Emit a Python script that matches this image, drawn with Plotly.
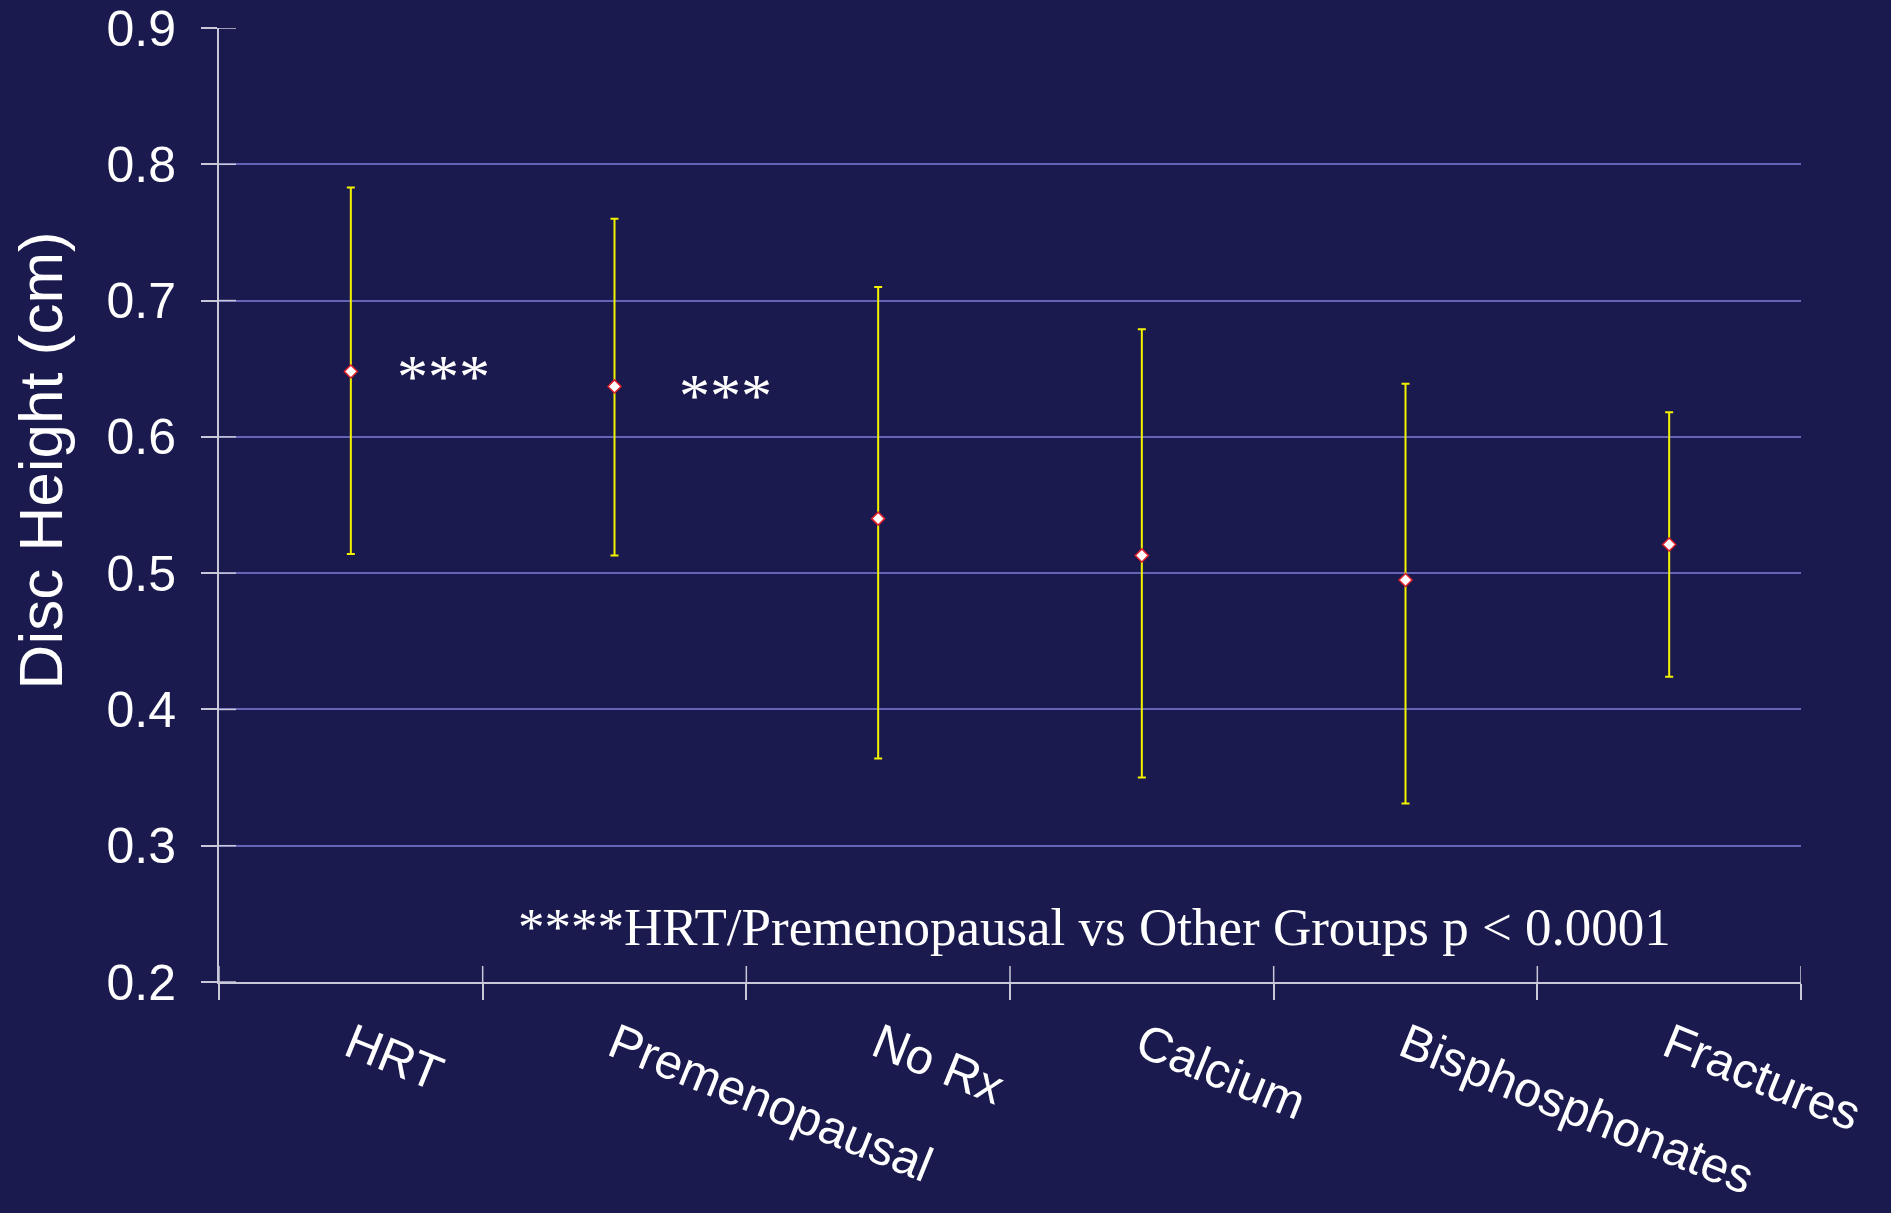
import plotly.graph_objects as go

categories = ["HRT", "Premenopausal", "No Rx", "Calcium", "Bisphosphonates", "Fractures"]
means = [0.648, 0.637, 0.540, 0.513, 0.495, 0.521]
upper = [0.783, 0.760, 0.710, 0.679, 0.639, 0.618]
lower = [0.514, 0.513, 0.364, 0.350, 0.331, 0.424]
y_ticks = [0.2, 0.3, 0.4, 0.5, 0.6, 0.7, 0.8, 0.9]
star_notes = [("***", 0.35, 0.651), ("***", 1.42, 0.637)]
footnote = "****HRT/Premenopausal vs Other Groups p < 0.0001"
y_title = "Disc Height (cm)"

BG = "#1B1A4E"
AXIS = "#C8C8D8"
GRID = "#6464B8"
YEL = "#F2F200"

err_plus = [u - m for u, m in zip(upper, means)]
err_minus = [m - l for m, l in zip(means, lower)]

fig = go.Figure()
fig.add_trace(go.Scatter(
    x=categories, y=means, mode="markers",
    marker=dict(symbol="diamond", size=10, color="white",
                line=dict(color="#E0202A", width=1.5)),
    error_y=dict(type="data", symmetric=False, array=err_plus, arrayminus=err_minus,
                 color=YEL, thickness=2, width=4),
    showlegend=False,
))

for txt, xv, yv in star_notes:
    fig.add_annotation(x=xv, y=yv, text=txt, showarrow=False, xref="x", yref="y",
                       font=dict(family="Liberation Serif, Times New Roman", size=62, color="white"),
                       yshift=-9)

fig.add_annotation(x=2.82, y=0.240, text=footnote, showarrow=False, xref="x", yref="y",
                   font=dict(family="Liberation Serif, Times New Roman", size=53, color="white"))

fig.add_annotation(x=-0.113, y=0.547, xref="paper", yref="paper", text=y_title,
                   textangle=-90, showarrow=False, xanchor="center", yanchor="middle",
                   font=dict(family="Liberation Sans, Arial", size=62, color="white"))

# inner halves of the crossing tick marks
n = len(categories)
for i in range(n + 1):
    fig.add_shape(type="line", xref="x", yref="paper", x0=i - 0.5, x1=i - 0.5,
                  y0=0, y1=16 / 954, line=dict(color=AXIS, width=1.5))
for t in y_ticks:
    fig.add_shape(type="line", xref="paper", yref="y", x0=0, x1=17 / 1582,
                  y0=t, y1=t, line=dict(color=AXIS, width=1.5))

fig.update_layout(
    width=1891, height=1213,
    margin=dict(l=219, r=90, t=28, b=231),
    paper_bgcolor=BG, plot_bgcolor=BG,
    font=dict(family="Liberation Sans, Arial", color="white"),
    xaxis=dict(
        type="category", range=[-0.5, n - 0.5],
        tickson="boundaries", ticks="outside", ticklen=16, tickcolor=AXIS, tickwidth=1.5,
        showline=True, linecolor=AXIS, linewidth=2, showgrid=False, zeroline=False,
        tickangle=22, tickfont=dict(size=49, color="white"),
        ticklabelstandoff=13, automargin=False,
    ),
    yaxis=dict(
        range=[0.2, 0.9], tickmode="array", tickvals=y_ticks,
        ticktext=[f"{v:.1f}" for v in y_ticks],
        ticks="outside", ticklen=16, tickcolor=AXIS, tickwidth=1.5,
        showline=True, linecolor=AXIS, linewidth=2,
        showgrid=True, gridcolor=GRID, gridwidth=1.5, zeroline=False,
        tickfont=dict(size=50, color="white"),
        ticklabelstandoff=15, automargin=False,
    ),
)

fig.write_html("out.html")
